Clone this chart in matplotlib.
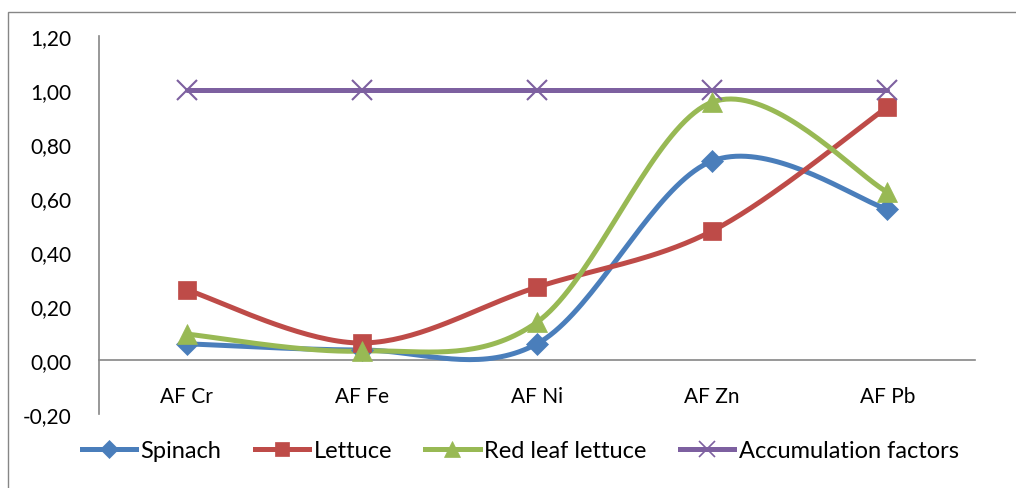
# Accumulation factors - smoothed line chart
import numpy as np
import matplotlib.pyplot as plt
from matplotlib.patches import Rectangle

plt.rcParams['font.family'] = ['Lato', 'DejaVu Sans']

categories = ["AF Cr", "AF Fe", "AF Ni", "AF Zn", "AF Pb"]
spinach = [0.06, 0.037, 0.06, 0.737, 0.559]
lettuce = [0.26, 0.063, 0.27, 0.478, 0.937]
red_leaf = [0.096, 0.033, 0.14, 0.955, 0.622]
accum = [1.0, 1.0, 1.0, 1.0, 1.0]
yticks = [-0.2, 0.0, 0.2, 0.4, 0.6, 0.8, 1.0, 1.2]


def smooth(y, n=40):
    # Excel-like smoothing: cubic bezier with catmull-rom control points
    x = np.arange(len(y), dtype=float)
    y = np.asarray(y, dtype=float)
    xs, ys = [], []
    for i in range(len(y) - 1):
        i0 = max(i - 1, 0)
        i3 = min(i + 2, len(y) - 1)
        p0 = np.array([x[i], y[i]])
        p3 = np.array([x[i + 1], y[i + 1]])
        c1 = p0 + (np.array([x[i + 1], y[i + 1]]) - np.array([x[i0], y[i0]])) / 6
        c2 = p3 - (np.array([x[i3], y[i3]]) - np.array([x[i], y[i]])) / 6
        t = np.linspace(0, 1, n)[:, None]
        b = (1 - t)**3 * p0 + 3 * (1 - t)**2 * t * c1 + 3 * (1 - t) * t**2 * c2 + t**3 * p3
        xs.extend(b[:, 0])
        ys.extend(b[:, 1])
    return np.array(xs), np.array(ys)


fig = plt.figure(figsize=(10.16, 4.89), dpi=100)
fig.patches.append(Rectangle((8 / 1016, -0.1), 1.2, (489 - 13) / 489 + 0.1,
                             transform=fig.transFigure, fill=False,
                             edgecolor="#868686", linewidth=1))
ax = fig.add_axes([99 / 1016, 74 / 489, 876 / 1016, 378 / 489])
ax.spines["top"].set_visible(False)
ax.spines["right"].set_visible(False)
ax.spines["bottom"].set_position(("data", 0))

series = [
    (spinach, "Spinach", "#4A7EBB", "D", 11),
    (lettuce, "Lettuce", "#BE4B48", "s", 13),
    (red_leaf, "Red leaf lettuce", "#98B954", "^", 14),
    (accum, "Accumulation factors", "#7D60A0", "x", 14),
]
x = np.arange(len(categories))
for vals, name, col, mk, ms in series:
    sx, sy = smooth(vals)
    ax.plot(sx, sy, color=col, linewidth=3.6, solid_capstyle="round", zorder=3)
    ax.plot(x, vals, linestyle="none", marker=mk, markersize=ms, color=col,
            markeredgewidth=1.5 if mk == "x" else 0.5, zorder=4)
    ax.plot([], [], color=col, linewidth=3.6, marker=mk, markersize=ms * 0.8,
            markeredgewidth=1.2 if mk == "x" else 0.5, label=name)

ax.set_xlim(-0.5, len(categories) - 0.5)
ax.set_ylim(-0.2, 1.2)
ax.set_yticks(yticks)
ax.set_yticklabels([f"{v:.2f}".replace(".", ",") for v in yticks])
ax.set_xticks(x)
ax.set_xticklabels(categories)
for s in ("left", "bottom"):
    ax.spines[s].set_color("#868686")
    ax.spines[s].set_linewidth(1.2)
ax.tick_params(axis="y", length=0, pad=20, labelsize=15)
ax.tick_params(axis="x", length=0, pad=19, labelsize=15)

fig.legend(loc="center", bbox_to_anchor=(0.512, (489 - 452) / 489), ncol=4,
           frameon=False, fontsize=17, handlelength=2.3, handletextpad=0.2,
           columnspacing=1.4)

fig.savefig("out.png", dpi=100)
